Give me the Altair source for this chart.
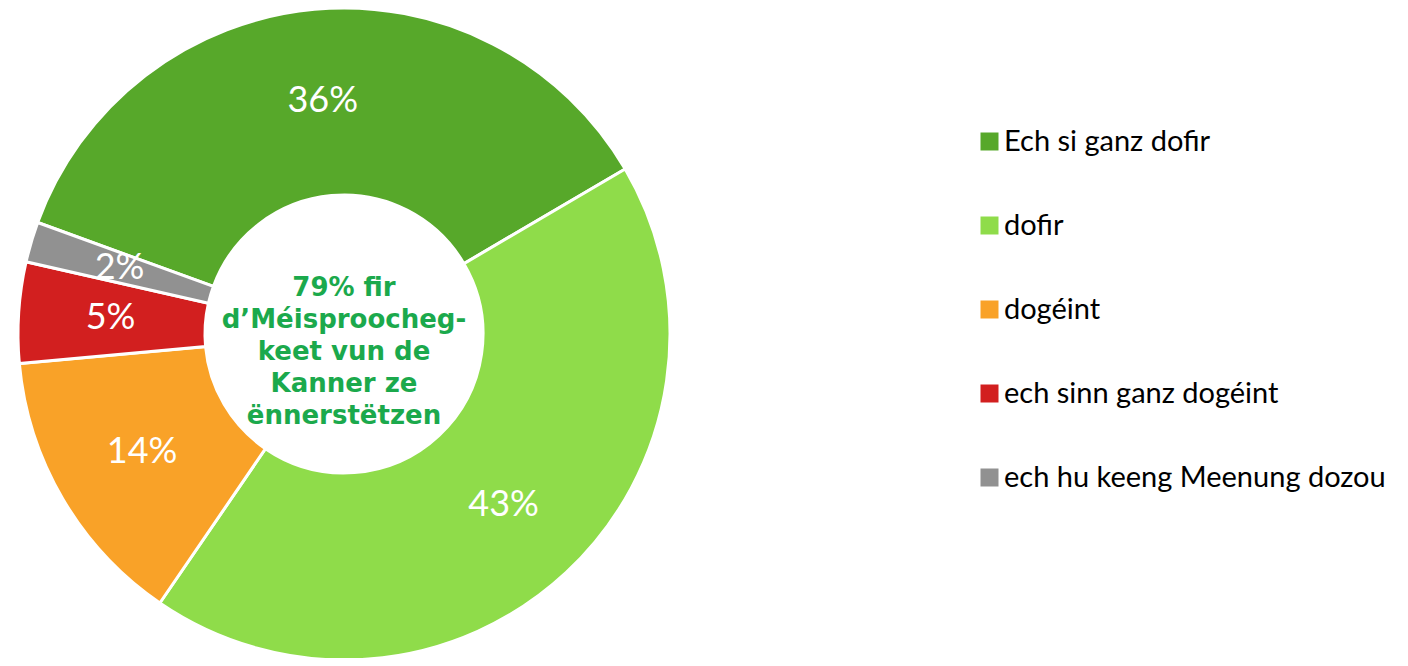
import altair as alt
import pandas as pd
import math

categories = ["Ech si ganz dofir", "dofir", "dogéint", "ech sinn ganz dogéint", "ech hu keeng Meenung dozou"]
values = [36, 43, 14, 5, 2]
labels = ["36%", "43%", "14%", "5%", "2%"]
colors = ["#57a82a", "#8fdc4a", "#f9a228", "#d21f1f", "#919191"]
center_text = "79% fir\nd’Méisproocheg-\nkeet vun de\nKanner ze\nënnerstëtzen"

df = pd.DataFrame({"cat": categories, "value": values, "label": labels, "idx": list(range(len(values)))})

start = math.radians(-70)
theta_scale = alt.Scale(range=[start, start + 2 * math.pi])
color_scale = alt.Scale(domain=categories, range=colors)

CX, CY = 336, 326

base = alt.Chart(df)

arcs = base.mark_arc(outerRadius=326, innerRadius=139, stroke="white", strokeWidth=3).encode(
    theta=alt.Theta("value:Q", stack=True, scale=theta_scale),
    order=alt.Order("idx:Q"),
    color=alt.Color(
        "cat:N",
        scale=color_scale,
        sort=categories,
        legend=alt.Legend(
            title=None,
            orient="none",
            legendX=967,
            legendY=119,
            symbolType="square",
            symbolSize=324,
            symbolStrokeWidth=0,
            labelFont="Lato",
            labelFontSize=29,
            labelColor="#000000",
            labelOffset=0,
            labelLimit=600,
            rowPadding=54,
            padding=0,
        ),
    ),
    x=alt.value(CX),
    y=alt.value(CY),
)

text = base.mark_text(radius=234, font="Lato", fontSize=36, color="white", align="center", baseline="middle").encode(
    theta=alt.Theta("value:Q", stack=True, scale=theta_scale),
    order=alt.Order("idx:Q"),
    text="label:N",
    x=alt.value(CX),
    y=alt.value(CY),
)

center = alt.Chart(pd.DataFrame({"t": [center_text]})).mark_text(
    font="DejaVu Sans", fontWeight="bold", fontSize=26, color="#1ba94c",
    align="center", baseline="middle", lineBreak="\n", lineHeight=32,
).encode(
    text="t:N",
    x=alt.value(CX),
    y=alt.value(280),
)

chart = alt.layer(arcs, text, center).properties(
    width=1392, height=650, padding=0, autosize=alt.AutoSizeParams(type="none")
).configure_view(stroke=None)

chart.save("out.html", embed_options={"renderer": "svg", "actions": False})
